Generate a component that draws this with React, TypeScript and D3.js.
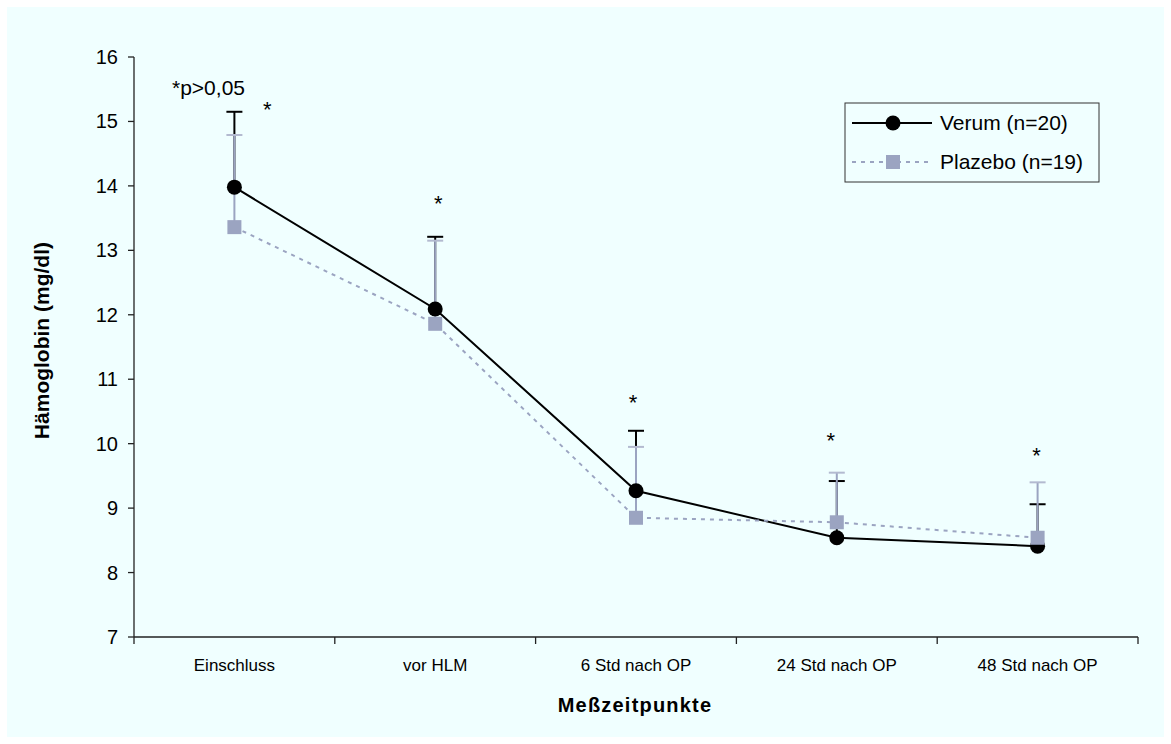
import React from "react";
import * as d3 from "d3";

const categories = ["Einschluss", "vor HLM", "6 Std nach OP", "24 Std nach OP", "48 Std nach OP"];
const verumMean = [13.98, 12.09, 9.27, 8.54, 8.41];
const verumUpper = [15.15, 13.21, 10.2, 9.42, 9.06];
const placeboMean = [13.36, 11.86, 8.85, 8.78, 8.54];
const placeboUpper = [14.79, 13.15, 9.95, 9.55, 9.4];
const starLevels = [15.26, 13.8, 10.71, 10.12, 9.9];
const starOffsets = [33, 3, -3, -6, -1];
const yTicks = [7, 8, 9, 10, 11, 12, 13, 14, 15, 16];
const seriesNames = ["Verum (n=20)", "Plazebo (n=19)"];

const FONT = "'Liberation Sans', Arial, Helvetica, sans-serif";
const PLACEBO = "#9BA4C1";
const PLACEBO_CAP = "#B3BAD0";

export default function App() {
  const left = 134, right = 1138, top = 57, bottom = 637;
  const x = d3.scaleBand<string>().domain(categories).range([left, right]).paddingInner(0).paddingOuter(0);
  const bw = x.bandwidth();
  const cx = (i: number) => (x(categories[i]) as number) + bw / 2;
  const y = d3.scaleLinear().domain([7, 16]).range([bottom, top]);

  const lineGen = d3
    .line<number>()
    .x((_, i) => cx(i))
    .y((d) => y(d));

  const boundaries = [...categories.map((c) => x(c) as number), right];
  const capW = 8;

  return (
    <svg
      width={1171}
      height={744}
      style={{ position: "absolute", left: 0, top: 0 }}
      fontFamily={FONT}
    >
      <rect x={0} y={0} width={1171} height={744} fill="#ffffff" />
      <rect x={7} y={7} width={1157} height={730} fill="#F0FFFF" />

      {/* y axis */}
      <line x1={left} x2={left} y1={top} y2={bottom} stroke="#222" strokeWidth={1.3} />
      {yTicks.map((t) => (
        <g key={t}>
          <line x1={left - 6} x2={left} y1={y(t)} y2={y(t)} stroke="#222" strokeWidth={1.3} />
          <text x={118} y={y(t)} dy="0.35em" textAnchor="end" fontSize={20} fill="#000">
            {t}
          </text>
        </g>
      ))}

      {/* x axis */}
      <line x1={left} x2={right} y1={bottom} y2={bottom} stroke="#222" strokeWidth={1.3} />
      {boundaries.map((b, i) => (
        <line key={i} x1={b} x2={b} y1={bottom} y2={bottom + 7} stroke="#222" strokeWidth={1.3} />
      ))}
      {categories.map((c, i) => (
        <text key={c} x={cx(i)} y={671} textAnchor="middle" fontSize={17} fill="#000">
          {c}
        </text>
      ))}

      {/* axis titles */}
      <text x={635} y={712} textAnchor="middle" fontSize={20} fontWeight="bold" letterSpacing={1.2} fill="#000">
        Meßzeitpunkte
      </text>
      <text
        transform={`translate(49, ${y(11.6)}) rotate(-90)`}
        textAnchor="middle"
        fontSize={21}
        fontWeight="bold"
        fill="#000"
      >
        Hämoglobin (mg/dl)
      </text>

      {/* error bars verum */}
      {verumMean.map((m, i) => (
        <g key={"ve" + i}>
          <line x1={cx(i)} x2={cx(i)} y1={y(m)} y2={y(verumUpper[i])} stroke="#000" strokeWidth={2} />
          <line x1={cx(i) - capW} x2={cx(i) + capW} y1={y(verumUpper[i])} y2={y(verumUpper[i])} stroke="#000" strokeWidth={2} />
        </g>
      ))}
      {/* error bars placebo */}
      {placeboMean.map((m, i) => (
        <g key={"pe" + i}>
          <line x1={cx(i)} x2={cx(i)} y1={y(m)} y2={y(placeboUpper[i])} stroke={PLACEBO} strokeWidth={2} />
          <line x1={cx(i) - capW} x2={cx(i) + capW} y1={y(placeboUpper[i])} y2={y(placeboUpper[i])} stroke={PLACEBO_CAP} strokeWidth={2} />
        </g>
      ))}

      {/* lines */}
      <path d={lineGen(verumMean) || ""} fill="none" stroke="#000" strokeWidth={2} />
      <path d={lineGen(placeboMean) || ""} fill="none" stroke={PLACEBO} strokeWidth={2} strokeDasharray="4,5" />

      {/* markers */}
      {verumMean.map((m, i) => (
        <circle key={"vm" + i} cx={cx(i)} cy={y(m)} r={7.5} fill="#000" />
      ))}
      {placeboMean.map((m, i) => (
        <rect key={"pm" + i} x={cx(i) - 7} y={y(m) - 7} width={14} height={14} fill={PLACEBO} />
      ))}

      {/* significance stars */}
      {starLevels.map((s, i) => (
        <text key={"st" + i} x={cx(i) + starOffsets[i]} y={y(s) + 12.5} textAnchor="middle" fontSize={22} fill="#000">
          *
        </text>
      ))}
      <text x={172} y={95} fontSize={21} fill="#000">
        *p&gt;0,05
      </text>

      {/* legend */}
      <rect x={845} y={103} width={254} height={79} fill="#F0FFFF" stroke="#333" strokeWidth={1} />
      <line x1={852} x2={932} y1={123} y2={123} stroke="#000" strokeWidth={2} />
      <circle cx={893} cy={123} r={7.5} fill="#000" />
      <text x={940} y={123} dy="0.35em" fontSize={21} fill="#000">
        {seriesNames[0]}
      </text>
      <line x1={852} x2={932} y1={162} y2={162} stroke={PLACEBO} strokeWidth={2} strokeDasharray="4,5" />
      <rect x={886} y={155} width={14} height={14} fill={PLACEBO} />
      <text x={940} y={162} dy="0.35em" fontSize={21} fill="#000">
        {seriesNames[1]}
      </text>
    </svg>
  );
}
